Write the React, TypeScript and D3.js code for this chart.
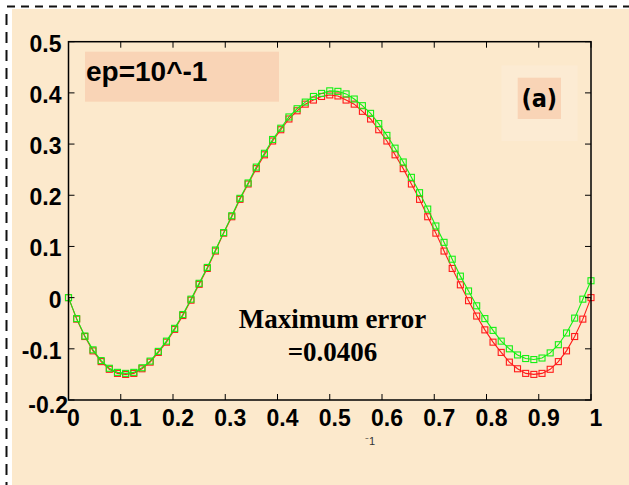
import React from "react";
import * as d3 from "d3";

// ---- data ----
const N_INTERVALS = 64;
const redValues = [
  0, -0.042, -0.076, -0.104, -0.125, -0.14, -0.148, -0.15, -0.148, -0.139, -0.126, -0.107, -0.087,
  -0.062, -0.035, -0.005, 0.026, 0.057, 0.091, 0.126, 0.158, 0.192, 0.222, 0.252, 0.279, 0.306,
  0.328, 0.349, 0.365, 0.378, 0.386, 0.393, 0.396, 0.394, 0.386, 0.378, 0.364, 0.349, 0.328,
  0.306, 0.279, 0.252, 0.222, 0.192, 0.158, 0.126, 0.091, 0.057, 0.025, -0.006, -0.036, -0.063,
  -0.087, -0.107, -0.126, -0.139, -0.148, -0.15, -0.148, -0.14, -0.125, -0.104, -0.076, -0.042, 0,
];
const greenValues = [
  0, -0.041, -0.075, -0.102, -0.123, -0.138, -0.146, -0.148, -0.146, -0.137, -0.124, -0.105,
  -0.085, -0.06, -0.033, -0.003, 0.028, 0.059, 0.093, 0.127, 0.16, 0.194, 0.224, 0.255, 0.282,
  0.309, 0.331, 0.353, 0.369, 0.382, 0.393, 0.399, 0.404, 0.403, 0.398, 0.388, 0.375, 0.36, 0.34,
  0.317, 0.292, 0.265, 0.235, 0.205, 0.173, 0.14, 0.108, 0.075, 0.042, 0.013, -0.016, -0.041,
  -0.064, -0.085, -0.1, -0.112, -0.119, -0.121, -0.118, -0.108, -0.092, -0.069, -0.04, -0.003, 0.033,
];
const xTicks = [0, 0.1, 0.2, 0.3, 0.4, 0.5, 0.6, 0.7, 0.8, 0.9, 1];
const xTickLabels = ["0", "0.1", "0.2", "0.3", "0.4", "0.5", "0.6", "0.7", "0.8", "0.9", "1"];
const yTicks = [0.5, 0.4, 0.3, 0.2, 0.1, 0, -0.1, -0.2];
const yTickLabels = ["0.5", "0.4", "0.3", "0.2", "0.1", "0", "-0.1", "-0.2"];
const titleText = "ep=10^-1";
const panelLabel = "(a)";
const errorLines = ["Maximum error", "=0.0406"];
const xAxisStub = "\u207B1";

// ---- layout ----
const W = 629;
const H = 485;
const L = 68.5, R = 591, T = 41.7, B = 400;

export default function App() {
  const x = d3.scaleLinear().domain([0, 1]).range([L, R]);
  const y = d3.scaleLinear().domain([-0.2, 0.5]).range([B, T]);
  const xs = d3.range(N_INTERVALS + 1).map((i) => i / N_INTERVALS);
  const line = d3
    .line<number>()
    .x((_, i) => x(xs[i]))
    .y((d) => y(d));
  const ms = 6;
  const series = [
    { vals: redValues, color: "#ff1a1a" },
    { vals: greenValues, color: "#14f014" },
  ];
  const tickFont = "'Liberation Sans', Arial, sans-serif";
  return (
    <svg
      width={W}
      height={H}
      style={{ position: "absolute", left: 0, top: 0, background: "#ffffff" }}
    >
      <rect x={12} y={9} width={W - 12} height={H - 9} fill="#fce9cc" />
      <line x1={7} x2={W} y1={6.5} y2={6.5} stroke="#111" strokeWidth={2} strokeDasharray="8 6" />
      <line x1={6.5} x2={6.5} y1={14} y2={H} stroke="#111" strokeWidth={2} strokeDasharray="11 7" />

      {/* title box */}
      <rect x={85} y={51.7} width={194} height={50} fill="#f9d4b6" />
      <text
        x={86}
        y={80.5}
        fontFamily={tickFont}
        fontWeight="bold"
        fontSize={28}
        fill="#000"
      >
        {titleText}
      </text>

      {/* panel label */}
      <rect x={501.5} y={65.5} width={76} height={75.5} fill="#fcebd3" />
      <rect x={517.7} y={77.7} width={43.3} height={41.3} fill="#f9d4b6" />
      <text
        x={539.3}
        y={107}
        textAnchor="middle"
        fontFamily="'DejaVu Sans Condensed', 'DejaVu Sans', sans-serif"
        fontWeight="bold"
        fontSize={25}
        fill="#000"
      >
        {panelLabel}
      </text>

      {/* series */}
      {series.map((s, si) => (
        <g key={si}>
          <path d={line(s.vals) || ""} fill="none" stroke={s.color} strokeWidth={1.1} />
          {s.vals.map((v, i) => (
            <rect
              key={i}
              x={x(xs[i]) - ms / 2}
              y={y(v) - ms / 2}
              width={ms}
              height={ms}
              fill="none"
              stroke={s.color}
              strokeWidth={1.1}
            />
          ))}
        </g>
      ))}

      {/* axes box */}
      <rect x={L} y={T} width={R - L} height={B - T} fill="none" stroke="#000" strokeWidth={1.5} />
      {xTicks.map((t, i) => (
        <g key={"xt" + i}>
          <line x1={x(t)} x2={x(t)} y1={B} y2={B - 6} stroke="#000" strokeWidth={1} />
          <line x1={x(t)} x2={x(t)} y1={T} y2={T + 6} stroke="#000" strokeWidth={1} />
          <text
            x={x(t) + 5}
            y={426}
            textAnchor="middle"
            fontFamily={tickFont}
            fontWeight="bold"
            fontSize={23}
            fill="#000"
          >
            {xTickLabels[i]}
          </text>
        </g>
      ))}
      {yTicks.map((t, i) => {
        const last = i === yTicks.length - 1;
        return (
          <g key={"yt" + i}>
            <line x1={L} x2={L + 6} y1={y(t)} y2={y(t)} stroke="#000" strokeWidth={1} />
            <line x1={R} x2={R - 6} y1={y(t)} y2={y(t)} stroke="#000" strokeWidth={1} />
            <text
              x={last ? 68 : 61.5}
              y={y(t) + (last ? 5 : 2)}
              textAnchor="end"
              dominantBaseline="central"
              fontFamily={tickFont}
              fontWeight="bold"
              fontSize={23}
              fill="#000"
            >
              {yTickLabels[i]}
            </text>
          </g>
        );
      })}

      {/* error annotation */}
      {errorLines.map((t, i) => (
        <text
          key={"e" + i}
          x={332.5}
          y={328.3 + i * 33}
          textAnchor="middle"
          fontFamily="'Liberation Serif', 'Times New Roman', serif"
          fontWeight="bold"
          fontSize={27}
          fill="#000"
        >
          {t}
        </text>
      ))}

      <text
        x={365}
        y={445}
        fontFamily={tickFont}
        fontSize={11}
        fill="#333"
      >
        {xAxisStub}
      </text>
    </svg>
  );
}
